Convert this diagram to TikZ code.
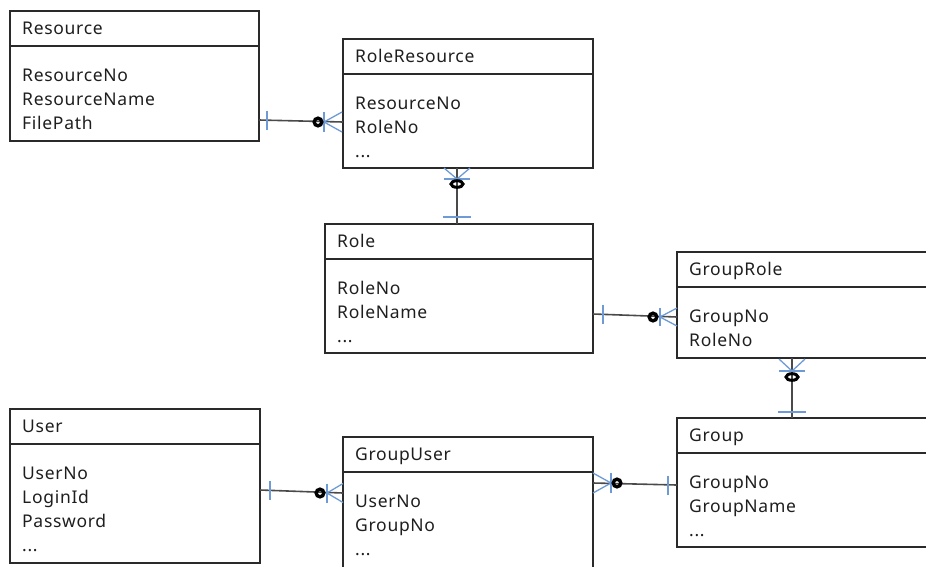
\documentclass[tikz,border=0pt]{standalone}
\usepackage{fontspec}
\setmainfont{Noto Sans}[LetterSpace=4]
\usetikzlibrary{calc}

\definecolor{ink}{HTML}{1E1E1E}
\definecolor{frame}{HTML}{2A2A2A}
\definecolor{wirec}{HTML}{4A4A4A}
\definecolor{notation}{HTML}{6E9BD6}
\newcommand\erfont{\fontsize{17.5}{21}\selectfont}

\tikzset{
  entity/.style={draw=frame, line width=1.3pt, anchor=north west, inner sep=0pt, outer sep=0pt},
  divider/.style={draw=frame, line width=1.3pt},
  erlabel/.style={anchor=base west, inner sep=0pt, text=ink, font=\erfont},
  wire/.style={draw=wirec, line width=1.6pt},
  erstroke/.style={draw=notation, line width=1.3pt},
  ring/.style={draw=black, line width=3.4pt},
  crow len/.store in=\crowlen, crow spread/.store in=\crowspread,
  bar half/.store in=\barhalf,
  crow len=18, crow spread=10, bar half=9.5,
  crowfoot/.pic={
    \draw[erstroke] (\crowlen,-\crowspread) -- (0,0) -- (\crowlen,\crowspread);
    \draw[erstroke] (0,-\crowspread) -- (0,\crowspread);
  },
  onebar/.pic={\draw[erstroke] (0,-\barhalf) -- (0,\barhalf);},
}

% entity box: name, x, y, width, height, title
\newcommand\erbox[6]{%
  \node[entity, minimum width=#4pt, minimum height=#5pt] (#1) at (#2,#3) {};
  \draw[divider] ($(#1.north west)+(0,35)$) -- ($(#1.north east)+(0,35)$);
  \node[erlabel] (#1-title) at ($(#1.north west)+(12,23.5)$) {#6};
}
% attribute line: name, box, row, text
\newcommand\erfield[4]{%
  \node[erlabel] (#1) at ($(#2.north west)+(12,{46+24*#3})$) {#4};
}

\begin{document}
\begin{tikzpicture}[x=1pt,y=-1pt]
\useasboundingbox (0,0) rectangle (926,566);
\clip (0,0) rectangle (926,566);

% ---- entities ----
\erbox{res}{10}{11}{249}{130}{Resource}
\erfield{res-a}{res}{1}{ResourceNo}
\erfield{res-b}{res}{2}{ResourceName}
\erfield{res-c}{res}{3}{FilePath}

\erbox{rr}{343}{39}{250}{129}{RoleResource}
\erfield{rr-a}{rr}{1}{ResourceNo}
\erfield{rr-b}{rr}{2}{RoleNo}
\erfield{rr-c}{rr}{3}{...}

\erbox{role}{325}{224}{268}{129}{Role}
\erfield{role-a}{role}{1}{RoleNo}
\erfield{role-b}{role}{2}{RoleName}
\erfield{role-c}{role}{3}{...}

\erbox{gr}{677}{252}{262}{106}{GroupRole}
\erfield{gr-a}{gr}{1}{GroupNo}
\erfield{gr-b}{gr}{2}{RoleNo}

\erbox{user}{10}{409}{250}{154}{User}
\erfield{user-a}{user}{1}{UserNo}
\erfield{user-b}{user}{2}{LoginId}
\erfield{user-c}{user}{3}{Password}
\erfield{user-d}{user}{4}{...}

\erbox{gu}{343}{437}{250}{140}{GroupUser}
\erfield{gu-a}{gu}{1}{UserNo}
\erfield{gu-b}{gu}{2}{GroupNo}
\erfield{gu-c}{gu}{3}{...}

\erbox{grp}{677}{418}{262}{129}{Group}
\erfield{grp-a}{grp}{1}{GroupNo}
\erfield{grp-b}{grp}{2}{GroupName}
\erfield{grp-c}{grp}{3}{...}

% ---- relationship end points ----
\coordinate (c1a) at ($(res.north east)+(0,109)$);
\coordinate (c1b) at ($(rr.north west)+(0,83)$);
\coordinate (c2a) at ($(rr.south west)+(114,0)$);
\coordinate (c2b) at ($(role.north west)+(132,0)$);
\coordinate (c3a) at ($(role.north east)+(0,90)$);
\coordinate (c3b) at ($(gr.north west)+(0,65)$);
\coordinate (c4a) at ($(gr.south west)+(115,0)$);
\coordinate (c4b) at ($(grp.north west)+(115,0)$);
\coordinate (c5a) at ($(user.north east)+(0,81)$);
\coordinate (c5b) at ($(gu.north west)+(0,56)$);
\coordinate (c6a) at ($(gu.north east)+(0,46)$);
\coordinate (c6b) at ($(grp.north west)+(0,67)$);

% ---- connectors ----
\draw[wire] (c1a) -- (c1b);
\draw[wire] (c2a) -- (c2b);
\draw[wire] (c3a) -- (c3b);
\draw[wire] (c4a) -- (c4b);
\draw[wire] (c5a) -- (c5b);
\draw[wire] (c6a) -- (c6b);

% Resource 1 -- 0..* RoleResource
\pic at ($(c1a)+(8,0)$) {onebar};
\pic at ($(c1b)+(-19,0)$) {crowfoot};
\draw[ring] ($(c1b)+(-25,0)$) circle[radius=3.8];

% RoleResource 0..* -- 1 Role
\pic[rotate=90, crow len=11, crow spread=13] at ($(c2a)+(0,11)$) {crowfoot};
\draw[ring, line width=3pt] ($(c2a)+(0,16)$) ellipse[x radius=6, y radius=3.3];
\pic[rotate=90, bar half=14] at ($(c2b)+(0,-7)$) {onebar};

% Role 1 -- 0..* GroupRole
\pic at ($(c3a)+(10,0)$) {onebar};
\pic[crow len=17, crow spread=9] at ($(c3b)+(-17,0)$) {crowfoot};
\draw[ring] ($(c3b)+(-24,0)$) circle[radius=3.8];

% GroupRole 0..* -- 1 Group
\pic[rotate=90, crow len=12, crow spread=13] at ($(c4a)+(0,13)$) {crowfoot};
\draw[ring, line width=3pt] ($(c4a)+(0,19)$) ellipse[x radius=6, y radius=3.3];
\pic[rotate=90, bar half=14] at ($(c4b)+(0,-6)$) {onebar};

% User 1 -- 0..* GroupUser
\pic at ($(c5a)+(10,0)$) {onebar};
\pic[crow len=16, crow spread=9.5] at ($(c5b)+(-16,0)$) {crowfoot};
\draw[ring] ($(c5b)+(-23,0)$) circle[radius=3.8];

% GroupUser 0..* -- 1 Group
\pic[rotate=180] at ($(c6a)+(18,0)$) {crowfoot};
\draw[ring] ($(c6a)+(24,0)$) circle[radius=3.8];
\pic at ($(c6b)+(-9,0)$) {onebar};
\end{tikzpicture}
\end{document}
